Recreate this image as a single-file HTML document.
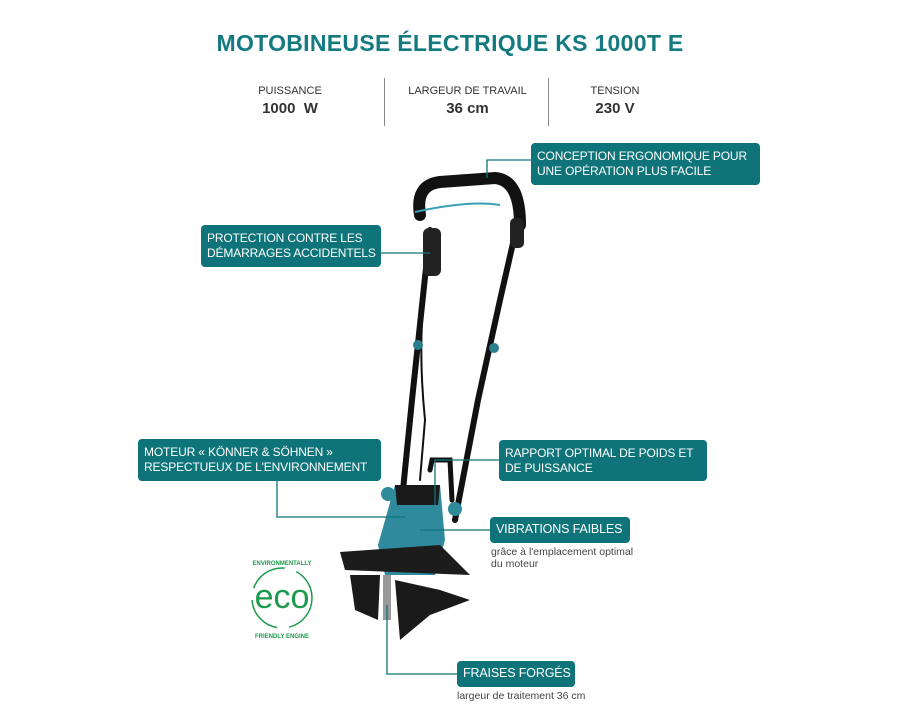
<!DOCTYPE html><html><head><meta charset="utf-8"><style>
body{margin:0;width:900px;height:713px;background:#fff;position:relative;overflow:hidden;font-family:"Liberation Sans",sans-serif}
.t{position:absolute;left:0;width:900px;top:30px;text-align:center;font-weight:bold;font-size:23px;color:#137a80;letter-spacing:0.3px}
.s{position:absolute;text-align:center;color:#333}
.s .a{font-size:11px}.s .b{font-size:15px;font-weight:bold;margin-top:3px}
.box{position:absolute;background:#0f7479;color:#fff;font-size:12px;line-height:15px;padding:6px 6px;border-radius:4px;box-sizing:border-box;letter-spacing:-0.15px;white-space:nowrap;overflow:hidden}
.sub{position:absolute;font-size:10.5px;color:#444;line-height:12px}
.vl{position:absolute;width:1px;background:#888;top:78px;height:48px}
</style></head><body>
<div class="t">MOTOBINEUSE ÉLECTRIQUE KS 1000T E</div>
<div class="s" style="left:240px;width:100px;top:85px"><div class="a">PUISSANCE</div><div class="b">1000&nbsp; W</div></div>
<div class="vl" style="left:384px"></div>
<div class="s" style="left:395px;width:145px;top:85px"><div class="a">LARGEUR DE TRAVAIL</div><div class="b">36 cm</div></div>
<div class="vl" style="left:548px"></div>
<div class="s" style="left:575px;width:80px;top:85px"><div class="a">TENSION</div><div class="b">230 V</div></div>

<svg width="900" height="713" style="position:absolute;left:0;top:0">
<g fill="none" stroke="#111" stroke-linecap="round">
<path d="M420 215 Q415 185 440 182 L495 178 Q520 180 520 225" stroke-width="12"/>
<path d="M430 230 L412 400 L400 520" stroke-width="6"/>
<path d="M516 230 L500 300 L478 400 L455 520" stroke-width="6"/>
<path d="M432 250 Q415 320 425 420 L420 480" stroke-width="2"/>
<path d="M430 470 L432 460 L450 460 L452 500" stroke-width="5"/>
</g>
<path d="M415 212 Q470 200 500 205" stroke="#3aa0b8" stroke-width="2" fill="none"/>
<rect x="423" y="228" width="18" height="48" rx="6" fill="#222"/>
<rect x="510" y="218" width="14" height="30" rx="5" fill="#222"/>
<circle cx="494" cy="348" r="5" fill="#2a7f8e"/><circle cx="418" cy="345" r="5" fill="#2a7f8e"/>
<circle cx="388" cy="494" r="7" fill="#2f8a9a"/><circle cx="455" cy="509" r="7" fill="#2f8a9a"/>
<path d="M395 485 L440 485 L445 540 L435 575 L385 575 L378 545 Z" fill="#2e8a9c"/>
<path d="M395 485 L440 485 L438 505 L397 505 Z" fill="#1a1a1a"/>
<path d="M340 552 L440 545 L470 575 L345 570 Z" fill="#1c1c1c"/>
<path d="M350 575 L380 575 L378 620 L355 610 Z M395 580 L440 590 L470 600 L430 615 L400 640 Z" fill="#1a1a1a"/>
<rect x="383" y="575" width="8" height="45" fill="#999"/>
<g fill="none" stroke="#0f7479" stroke-width="1.3">
<path d="M531 160 L487 160 L487 178"/>
<path d="M381 253 L430 253"/>
<path d="M277 481 L277 517 L405 517"/>
<path d="M499 460 L435 460 L435 505"/>
<path d="M490 530 L420 530"/>
<path d="M457 674 L387 674 L387 605"/>
</g>
<g transform="translate(282,598)">
<circle r="30" fill="none" stroke="#1d9a4d" stroke-width="1.5" stroke-dasharray="40 12"/>
<text x="0" y="10" text-anchor="middle" font-size="34" font-family="Liberation Sans" fill="#1d9a4d">eco</text>
<text x="0" y="-33" text-anchor="middle" font-size="6" font-weight="bold" fill="#1d9a4d">ENVIRONMENTALLY</text>
<text x="0" y="40" text-anchor="middle" font-size="6" font-weight="bold" fill="#1d9a4d">FRIENDLY ENGINE</text>
</g>
</svg>

<div class="box" style="left:531px;top:143px;width:229px;height:42px">CONCEPTION ERGONOMIQUE POUR<br>UNE OPÉRATION PLUS FACILE</div>
<div class="box" style="left:201px;top:225px;width:180px;height:42px">PROTECTION CONTRE LES<br>DÉMARRAGES ACCIDENTELS</div>
<div class="box" style="left:138px;top:439px;width:243px;height:42px">MOTEUR « KÖNNER &amp; SÖHNEN »<br>RESPECTUEUX DE L'ENVIRONNEMENT</div>
<div class="box" style="left:499px;top:440px;width:208px;height:41px">RAPPORT OPTIMAL DE POIDS ET<br>DE PUISSANCE</div>
<div class="box" style="left:490px;top:517px;width:140px;height:26px;font-size:12.5px;padding-top:5px">VIBRATIONS FAIBLES</div>
<div class="sub" style="left:491px;top:546px">grâce à l'emplacement optimal<br>du moteur</div>
<div class="box" style="left:457px;top:661px;width:118px;height:26px;font-size:12.5px;padding-top:5px">FRAISES FORGÉS</div>
<div class="sub" style="left:457px;top:690px">largeur de traitement 36 cm</div>
</body></html>
